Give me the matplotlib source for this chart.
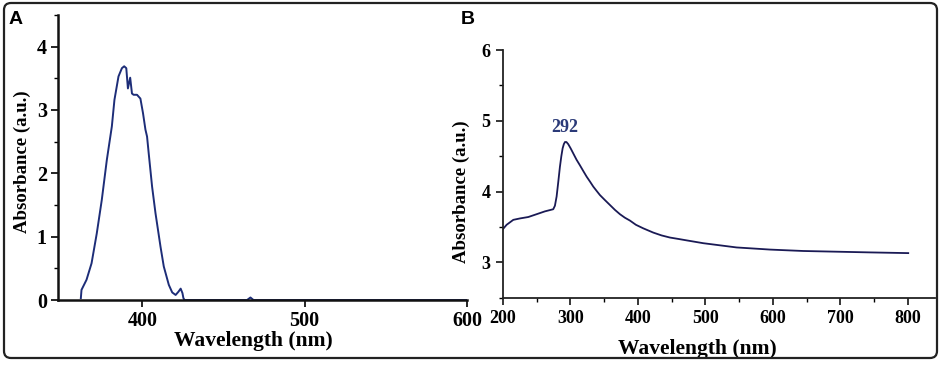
import matplotlib as mpl
mpl.use('Agg')
import matplotlib.pyplot as plt
from matplotlib.patches import FancyBboxPatch
from matplotlib.transforms import IdentityTransform
from matplotlib.ticker import MultipleLocator

# panel A: absorbance spectrum 360-430 nm
wl_a = [362.1, 362.5, 365.6, 368.7, 371.9, 375.0, 378.1, 381.2, 382.8, 385.3,
        387.4, 388.8, 390.1, 391.1, 392.5, 393.6, 394.6, 396.7, 398.8, 400.4,
        401.9, 402.9, 403.9, 406.0, 408.1, 411.2, 413.2, 416.3, 418.4, 420.5,
        422.2, 423.6, 424.7, 425.3, 426.0, 464.5, 466.6, 468.5, 600.0]
abs_a = [0.03, 0.16, 0.32, 0.58, 1.05, 1.58, 2.21, 2.74, 3.16, 3.53,
         3.66, 3.69, 3.66, 3.34, 3.51, 3.26, 3.24, 3.24, 3.18, 2.95,
         2.69, 2.58, 2.32, 1.79, 1.37, 0.84, 0.53, 0.24, 0.12, 0.08,
         0.13, 0.18, 0.11, 0.03, 0.0, 0.0, 0.04, 0.0, 0.0]

# panel B: absorbance spectrum 200-800 nm
wl_b = [200, 205.4, 215.3, 225.2, 237.5, 249.9, 262.2, 274.5, 277.0, 279.5,
        282.0, 284.4, 286.5, 288.4, 290.2, 291.9, 294.0, 296.7, 300.3, 304.1,
        309.0, 314.1, 319.0, 324.0, 329.0, 333.8, 338.7, 343.7, 351.0, 358.5,
        366.0, 373.3, 380.7, 388.1, 397.0, 407.9, 422.7, 435.0, 447.4, 460.0,
        472.1, 484.5, 496.8, 521.5, 546.2, 571.0, 595.6, 620.0, 644.9, 669.5,
        694.3, 719.0, 743.7, 772.0, 800.5]
abs_b = [3.47, 3.53, 3.60, 3.62, 3.64, 3.68, 3.72, 3.75, 3.80, 3.93,
         4.14, 4.35, 4.50, 4.61, 4.67, 4.70, 4.70, 4.67, 4.61, 4.54,
         4.45, 4.37, 4.29, 4.21, 4.14, 4.07, 4.01, 3.95, 3.88, 3.81,
         3.74, 3.68, 3.63, 3.59, 3.53, 3.48, 3.42, 3.38, 3.35, 3.33,
         3.31, 3.29, 3.27, 3.24, 3.21, 3.195, 3.18, 3.17, 3.16, 3.155,
         3.15, 3.145, 3.14, 3.135, 3.13]
peak_wl = 292
peak_abs = 4.70

serif = 'Liberation Serif'

fig = plt.figure(figsize=(9.41, 3.65), dpi=100)

# outer rounded frame
frame = FancyBboxPatch((4, 7), 933, 355, boxstyle="round,pad=0,rounding_size=7",
                       transform=IdentityTransform(), facecolor='none',
                       edgecolor='#222222', linewidth=1.6)
fig.patches.append(frame)

# ---- panel A ----
axA = fig.add_axes([0.0616, 0.178, 0.4346, 0.781])
axA.plot(wl_a, abs_a, color='#1d2d78', linewidth=1.4)
axA.set_xlim(348, 600)
axA.set_ylim(0, 4.5)
axA.set_xticks([400, 500, 600])
axA.set_yticks([0, 1, 2, 3, 4])
axA.yaxis.set_minor_locator(MultipleLocator(0.5))
for s in ['top', 'right']:
    axA.spines[s].set_visible(False)
for s in ['left', 'bottom']:
    axA.spines[s].set_linewidth(1.8)
    axA.spines[s].set_color('#111111')
axA.tick_params(axis='both', which='major', length=5, width=1.2, labelsize=14.5, pad=3)
axA.tick_params(axis='y', which='major', pad=3)
axA.tick_params(axis='y', which='minor', length=3, width=1)
for lbl in axA.get_xticklabels() + axA.get_yticklabels():
    lbl.set_fontfamily(serif)
    lbl.set_fontweight('bold')
axA.set_xlabel('Wavelength (nm)', fontfamily=serif, fontweight='bold', fontsize=15.5)
axA.set_ylabel('Absorbance (a.u.)', fontfamily=serif, fontweight='bold', fontsize=13.5)
axA.xaxis.set_label_coords(0.477, -0.11)
axA.yaxis.set_label_coords(-0.066, 0.485)

# ---- panel B ----
axB = fig.add_axes([0.5345, 0.1844, 0.459, 0.6786])
axB.plot(wl_b, abs_b, color='#1a1a55', linewidth=1.3)
axB.text(peak_wl, peak_abs + 0.09, str(peak_wl), color='#2b3a78', fontfamily=serif,
         fontweight='bold', fontsize=13, ha='center', va='bottom')
axB.set_xlim(200, 840)
axB.set_ylim(2.5, 6)
axB.set_xticks([200, 300, 400, 500, 600, 700, 800])
axB.set_yticks([3, 4, 5, 6])
axB.xaxis.set_minor_locator(MultipleLocator(50))
axB.yaxis.set_minor_locator(MultipleLocator(0.5))
axB.spines['top'].set_visible(False)
axB.spines['right'].set_visible(False)
for s in ['left', 'bottom']:
    axB.spines[s].set_linewidth(1.3)
    axB.spines[s].set_color('#222222')
axB.tick_params(axis='both', which='major', length=5, width=1.1, labelsize=13, pad=4)
axB.tick_params(axis='both', which='minor', length=3, width=1)
for lbl in axB.get_xticklabels() + axB.get_yticklabels():
    lbl.set_fontfamily(serif)
    lbl.set_fontweight('bold')
axB.set_xlabel('Wavelength (nm)', fontfamily=serif, fontweight='bold', fontsize=15.5)
axB.set_ylabel('Absorbance (a.u.)', fontfamily=serif, fontweight='bold', fontsize=13.5)
axB.xaxis.set_label_coords(0.45, -0.165)
axB.yaxis.set_label_coords(-0.077, 0.43)

# panel letters
fig.text(0.009, 0.935, 'A', fontfamily='Liberation Sans', fontweight='bold', fontsize=14)
fig.text(0.490, 0.935, 'B', fontfamily='Liberation Sans', fontweight='bold', fontsize=14)

fig.savefig('out.png', dpi=100)
